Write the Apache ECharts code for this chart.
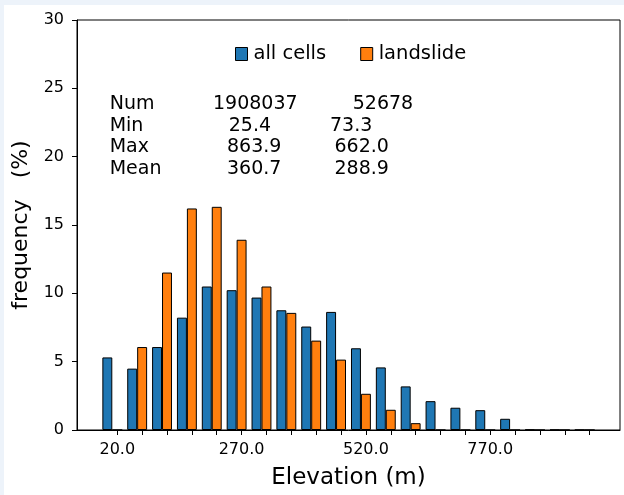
<!DOCTYPE html>
<html>
<head>
<meta charset="utf-8">
<script src="https://cdn.jsdelivr.net/npm/echarts@6/dist/echarts.min.js"></script>
<style>
html, body { margin: 0; padding: 0; background: #edf3fa; }
#main { position: absolute; left: 4px; top: 5px; width: 620px; height: 490px; background: #fff; }
</style>
</head>
<body>
<div id="main"></div>
<script>
// histogram bins (group centres) and frequencies in %
var binCenters = [10, 60, 110, 160, 210, 260, 310, 360, 410, 460, 510, 560, 610, 660, 710, 760, 810, 860, 910, 960];
var allCells = [5.31, 4.49, 6.07, 8.22, 10.5, 10.23, 9.69, 8.76, 7.57, 8.64, 5.98, 4.58, 3.19, 2.11, 1.63, 1.45, 0.82, 0.03, 0.02, 0.01];
var landslide = [0, 6.07, 11.52, 16.21, 16.33, 13.92, 10.5, 8.57, 6.54, 5.15, 2.65, 1.48, 0.5, 0, 0, 0, 0, 0, 0, 0];

// x ticks and labels
var tickValues = [20, 70, 120, 170, 220, 270, 320, 370, 420, 470, 520, 570, 620, 670, 720, 770, 820, 870, 920, 970];
var labelValues = [20, 270, 520, 770];

// statistics box
var statNames = ['Num', 'Min', 'Max', 'Mean'];
var allStats = ['1908037', '25.4', '863.9', '360.7'];
var slideStats = ['52678', '73.3', '662.0', '288.9'];

var font = 'DejaVu Sans';

function pairs(vals) {
    return vals.map(function (v, i) { return [binCenters[i], v]; });
}

// text of the stats table
var statX1 = [209, 224.7, 223, 223];
var statX2 = [348.7, 326, 330.5, 330.5];
var statY = [99.3, 121, 142.5, 163.8];
var texts = [];
for (var i = 0; i < statNames.length; i++) {
    [[105.7, statNames[i]], [statX1[i], allStats[i]], [statX2[i], slideStats[i]]].forEach(function (c) {
        texts.push({
            type: 'text', x: c[0], y: statY[i], silent: true,
            style: { text: c[1], fontSize: 19, fontFamily: font, fill: '#000', verticalAlign: 'middle' }
        });
    });
}

var chart = echarts.init(document.getElementById('main'));
var option = {
    animation: false,
    backgroundColor: '#fff',
    grid: {
        left: 73, right: 4, top: 15, bottom: 65,
        show: true, borderColor: '#000', borderWidth: 1,
        outerBoundsMode: 'none'
    },
    legend: {
        left: 231, top: 39, padding: 0,
        icon: 'rect',
        itemWidth: 12, itemHeight: 13, itemGap: 34,
        itemStyle: { borderColor: '#000', borderWidth: 1 },
        textStyle: { fontSize: 19.5, fontFamily: font, color: '#000', padding: [0, 0, 0, 1] },
        data: ['all cells', 'landslide']
    },
    xAxis: {
        type: 'value',
        min: -61, max: 1031,
        name: 'Elevation (m)',
        nameLocation: 'middle',
        nameGap: 37,
        nameTextStyle: { fontSize: 23, fontFamily: font, color: '#000' },
        splitLine: { show: false },
        axisLine: { show: true, onZero: false, lineStyle: { color: '#000', width: 1 } },
        axisTick: { show: true, length: 5, customValues: tickValues, lineStyle: { color: '#000' } },
        axisLabel: {
            customValues: labelValues,
            margin: 12,
            fontSize: 16, fontFamily: font, color: '#000',
            formatter: function (v) { return v.toFixed(1); }
        }
    },
    yAxis: {
        type: 'value',
        min: 0, max: 30, interval: 5,
        name: 'frequency   (%)',
        nameLocation: 'middle',
        nameGap: 44,
        nameRotate: 90,
        nameTextStyle: { fontSize: 22, fontFamily: font, color: '#000' },
        splitLine: { show: false },
        axisLine: { show: true, onZero: false, lineStyle: { color: '#000', width: 1 } },
        axisTick: { show: true, length: 5, lineStyle: { color: '#000' } },
        axisLabel: { margin: 13, fontSize: 16, fontFamily: font, color: '#000' }
    },
    series: [
        {
            name: 'all cells', type: 'bar',
            barGap: 0, barCategoryGap: '20%',
            itemStyle: { color: '#1f77b4', borderColor: '#000', borderWidth: 1 },
            data: pairs(allCells)
        },
        {
            name: 'landslide', type: 'bar',
            barGap: 0, barCategoryGap: '20%',
            itemStyle: { color: '#ff7f0e', borderColor: '#000', borderWidth: 1 },
            data: pairs(landslide)
        }
    ],
    graphic: texts
};
chart.setOption(option);

window.onresize = function () {
    chart.resize();
};
</script>
</body>
</html>
